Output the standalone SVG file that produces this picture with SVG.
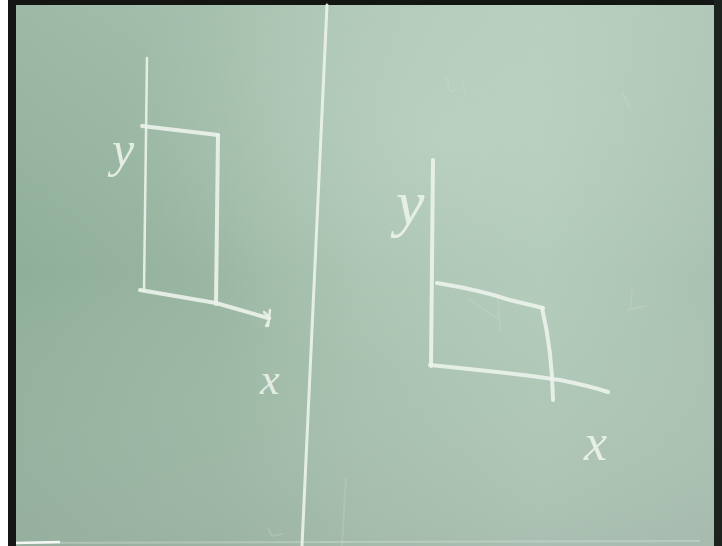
<svg xmlns="http://www.w3.org/2000/svg" width="722" height="546" viewBox="0 0 722 546">
<defs>
<linearGradient id="board" x1="0" y1="0" x2="1" y2="0">
<stop offset="0" stop-color="#8fae99"/>
<stop offset="0.3" stop-color="#99b6a2"/>
<stop offset="0.5" stop-color="#a6c0ae"/>
<stop offset="0.75" stop-color="#afc8b7"/>
<stop offset="1" stop-color="#a9c1b1"/>
</linearGradient>
<linearGradient id="shade" x1="0" y1="0" x2="0" y2="1">
<stop offset="0" stop-color="#c8dccf" stop-opacity="0.25"/>
<stop offset="0.5" stop-color="#c8dccf" stop-opacity="0"/>
<stop offset="1" stop-color="#a0aea6" stop-opacity="0.35"/>
</linearGradient>
<radialGradient id="glow" cx="0.62" cy="0.25" r="0.45">
<stop offset="0" stop-color="#c4d8ca" stop-opacity="0.5"/>
<stop offset="1" stop-color="#c4d8ca" stop-opacity="0"/>
</radialGradient>
</defs>
<style>
.chalk{fill:none;stroke:#eaf2ea;stroke-opacity:0.92;stroke-linecap:round;stroke-linejoin:round}
.bold{stroke-width:4}
.thin{stroke-width:2.5}
.faint{fill:none;stroke:#d8e6dc;stroke-opacity:0.2;stroke-width:2;stroke-linecap:round}
.lbl{font-family:"Liberation Serif",serif;font-style:italic;fill:#eaf2ea;fill-opacity:0.92}
</style>
<rect x="0" y="0" width="722" height="546" fill="url(#board)"/>
<rect x="0" y="0" width="722" height="546" fill="url(#shade)"/>
<rect x="0" y="0" width="722" height="546" fill="url(#glow)"/>
<rect x="0" y="0" width="8" height="546" fill="#ffffff"/>
<rect x="8" y="0" width="8" height="546" fill="#141614"/>
<rect x="8" y="0" width="714" height="5" fill="#141614"/>
<rect x="714" y="0" width="8" height="546" fill="#1c221e"/>
<line x1="16" y1="543" x2="700" y2="541" stroke="#d6e2da" stroke-opacity="0.4" stroke-width="2"/>
<line x1="16" y1="543" x2="60" y2="542" stroke="#f4f8f4" stroke-width="2.5"/>
<line x1="327" y1="5" x2="302" y2="546" class="chalk" stroke-width="3"/>
<line x1="346" y1="478" x2="342" y2="546" class="faint"/>
<path d="M268 528 L272 536 L282 534" class="faint"/>
<path d="M447 78 L450 92 L458 88 M462 80 L466 94" class="faint"/>
<path d="M622 92 L630 108" class="faint"/>
<path d="M632 290 L630 310 M628 310 L646 306" class="faint"/>
<path d="M470 300 L500 320 M498 296 L500 330" class="faint"/>
<g id="left-plot">
<line x1="147" y1="58" x2="144" y2="291" class="chalk thin"/>
<path d="M142 126 L218 135" class="chalk bold"/>
<path d="M218 135 L216 304" class="chalk bold"/>
<path d="M140 290 L216 303 L268 318" class="chalk bold"/>
<path d="M264 312 L270 318 L266 326 M270 310 L268 326" class="chalk thin"/>
<text x="112" y="166" class="lbl" font-size="50">y</text>
<text x="260" y="394" class="lbl" font-size="44">x</text>
</g>
<g id="right-plot">
<line x1="433" y1="160" x2="431" y2="366" class="chalk bold"/>
<path d="M437 283 Q480 290 510 300 L543 308" class="chalk bold"/>
<path d="M542 308 Q552 350 553 400" class="chalk bold"/>
<path d="M430 365 Q520 374 560 380 Q590 386 608 392" class="chalk bold"/>
<text x="396" y="224" class="lbl" font-size="64">y</text>
<text x="584" y="460" class="lbl" font-size="52">x</text>
</g>
</svg>
